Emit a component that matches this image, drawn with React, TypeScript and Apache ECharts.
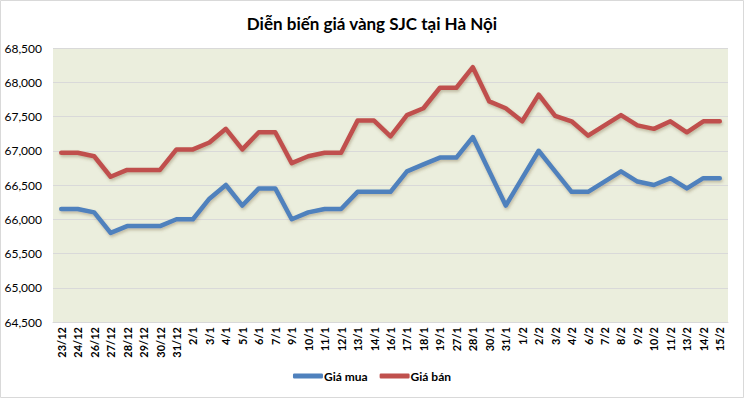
import React, { useEffect, useRef } from "react";
import * as echarts from "echarts";

const categories = [
  "23/12", "24/12", "26/12", "27/12", "28/12", "29/12", "30/12", "31/12",
  "2/1", "3/1", "4/1", "5/1", "6/1", "7/1", "9/1", "10/1", "11/1", "12/1",
  "13/1", "14/1", "16/1", "17/1", "18/1", "19/1", "27/1", "28/1", "30/1", "31/1",
  "1/2", "2/2", "3/2", "4/2", "6/2", "7/2", "8/2", "9/2", "10/2", "11/2",
  "13/2", "14/2", "15/2",
];

const giaMua = [
  66150, 66150, 66100, 65800, 65900, 65900, 65900, 66000,
  66000, 66300, 66500, 66200, 66450, 66450, 66000, 66100, 66150, 66150,
  66400, 66400, 66400, 66700, 66800, 66900, 66900, 67200, 66700, 66200,
  66600, 67000, 66700, 66400, 66400, 66550, 66700, 66550, 66500, 66600,
  66450, 66600, 66600,
];

const giaBan = [
  66970, 66970, 66920, 66620, 66720, 66720, 66720, 67020,
  67020, 67120, 67320, 67020, 67270, 67270, 66820, 66920, 66970, 66970,
  67440, 67440, 67210, 67520, 67620, 67920, 67920, 68220, 67720, 67620,
  67430, 67820, 67510, 67430, 67220, 67370, 67520, 67370, 67320, 67430,
  67270, 67430, 67430,
];

const yTicks = { min: 64500, max: 68500, interval: 500 };

export default function App() {
  const ref = useRef<HTMLDivElement>(null);
  useEffect(() => {
    if (!ref.current) return;
    const chart = echarts.init(ref.current, null, { renderer: "svg" });
    const shadow = {
      shadowColor: "rgba(110, 90, 50, 0.35)",
      shadowBlur: 3,
      shadowOffsetX: 1,
      shadowOffsetY: 2,
    };
    chart.setOption({
      animation: false,
      backgroundColor: "#ffffff",
      graphic: [
        {
          type: "rect",
          shape: { x: 0.5, y: 0.5, width: 743, height: 397 },
          style: { fill: "none", stroke: "#D9D9D9", lineWidth: 1 },
          silent: true,
          z: -1,
        },
      ],
      title: {
        text: "Diễn biến giá vàng SJC tại Hà Nội",
        left: "center",
        top: 10,
        textStyle: {
          fontFamily: "Lato",
          fontWeight: "bold",
          fontSize: 17,
          color: "#000",
        },
      },
      legend: {
        bottom: 11,
        left: "center",
        icon: "roundRect",
        itemWidth: 30,
        itemHeight: 5,
        itemGap: 12,
        textStyle: {
          fontFamily: "Lato",
          fontWeight: "bold",
          fontSize: 12,
          color: "#000",
          padding: [0, 0, 0, -4],
        },
        data: ["Giá mua", "Giá bán"],
      },
      grid: {
        left: 53,
        right: 16,
        top: 48,
        bottom: 76,
        show: true,
        backgroundColor: "#EBEEDD",
        borderWidth: 0,
      },
      xAxis: {
        type: "category",
        data: categories,
        boundaryGap: true,
        axisLine: { show: true, lineStyle: { color: "#D9D9D9", width: 1 } },
        axisTick: { show: false },
        axisLabel: {
          rotate: 90,
          interval: 0,
          fontFamily: "Lato",
          fontWeight: "bold",
          fontSize: 11,
          color: "#000",
          margin: 5,
        },
      },
      yAxis: {
        type: "value",
        min: yTicks.min,
        max: yTicks.max,
        interval: yTicks.interval,
        axisLine: { show: false },
        axisTick: { show: false },
        splitLine: { lineStyle: { color: "#D9D9D9", width: 1 } },
        axisLabel: {
          fontFamily: "Lato",
          fontSize: 12,
          color: "#000",
          margin: 11,
          formatter: (v: number) => v.toLocaleString("en-US"),
        },
      },
      series: [
        {
          name: "Giá mua",
          type: "line",
          data: giaMua,
          symbol: "none",
          color: "#4F81BD",
          lineStyle: { width: 4.5, color: "#4F81BD", cap: "round", join: "round", ...shadow },
        },
        {
          name: "Giá bán",
          type: "line",
          data: giaBan,
          symbol: "none",
          color: "#C0504D",
          lineStyle: { width: 4.5, color: "#C0504D", cap: "round", join: "round", ...shadow },
        },
      ],
    });
    return () => chart.dispose();
  }, []);
  return (
    <div
      ref={ref}
      style={{ position: "absolute", left: 0, top: 0, width: 744, height: 398 }}
    />
  );
}
